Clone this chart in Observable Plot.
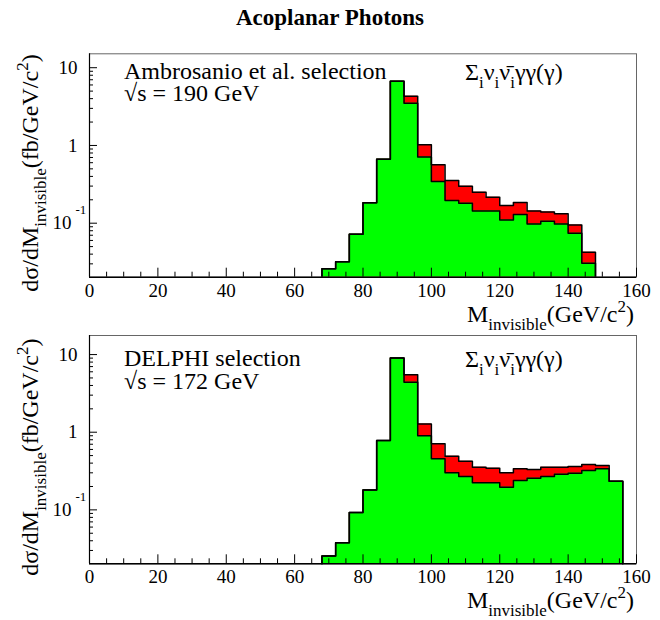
<!DOCTYPE html>
<html><head><meta charset="utf-8">
<script src="https://cdn.jsdelivr.net/npm/d3@7"></script>
<script src="https://cdn.jsdelivr.net/npm/@observablehq/plot@0.6"></script>
<style>
html,body{margin:0;padding:0;background:#fff;}
#wrap{position:relative;width:660px;height:620px;font-family:"Liberation Serif","Times New Roman",serif;}
#title{position:absolute;left:0;top:6px;width:660px;text-align:center;font-weight:bold;font-size:23px;line-height:1;}
#p1{position:absolute;left:0;top:40px;}
#p2{position:absolute;left:0;top:330px;}
#wrap svg, #wrap svg text{font-family:"Liberation Serif","Times New Roman",serif !important;}
</style></head><body>
<div id="wrap"><div id="title">Acoplanar Photons</div><div id="p1"></div><div id="p2"></div></div>
<script>
// ---- data ----
const binWidth = 4;
const binLow1 = [68,72,76,80,84,88,92,96,100,104,108,112,116,120,124,128,132,136,140,144];
const green1  = [0.026,0.032,0.072,0.183,0.667,6.7,3.5,0.708,0.344,0.196,0.181,0.143,0.143,0.110,0.129,0.098,0.106,0.098,0.0745,0.0306];
const total1  = [0.026,0.032,0.072,0.183,0.667,6.7,4.28,1.02,0.565,0.355,0.299,0.251,0.216,0.169,0.185,0.143,0.139,0.132,0.095,0.0424];

const binLow2 = [68,72,76,80,84,88,92,96,100,104,108,112,116,120,124,128,132,136,140,144,148,152];
const green2  = [0.0254,0.0377,0.0927,0.180,0.78,9.06,4.4,0.90,0.454,0.30,0.269,0.223,0.223,0.196,0.239,0.256,0.269,0.288,0.297,0.321,0.338,0.234];
const total2  = [0.0254,0.0377,0.0927,0.180,0.78,9.06,5.48,1.28,0.71,0.49,0.423,0.355,0.344,0.30,0.338,0.331,0.355,0.355,0.362,0.384,0.373,0.234];

const xMajor = [0,20,40,60,80,100,120,140,160];
const xMinor = [5,10,15,25,30,35,45,50,55,65,70,75,85,90,95,105,110,115,125,130,135,145,150,155];
const yMajor = [0.1,1,10];
const yMinor = [0.03,0.04,0.05,0.06,0.07,0.08,0.09,0.2,0.3,0.4,0.5,0.6,0.7,0.8,0.9,2,3,4,5,6,7,8,9];

const GREEN = "#00ff00", RED = "#ff0000";
const FONT = "'Liberation Serif', 'Times New Roman', serif";

function rich(text, parts, size, subDy, supDy) {
  let cur = 0;
  for (const [t, k] of parts) {
    const target = k === "sub" ? subDy : k === "sup" ? supDy : 0;
    text.append("tspan").attr("dy", target - cur)
      .attr("font-size", k === "n" ? size : Math.round(size * 0.7)).text(t);
    cur = target;
  }
}

function panel(el, binLow, green, total, yMax, H, mT, mB, ann) {
  const W = 660, mL = 89, mR = 24;
  const yMin = 0.0202;
  const innerH = H - mT - mB, innerW = W - mL - mR;
  const last = binLow.length - 1;
  const areaPts = vals => binLow.map((lo, i) => ({x: lo, y: vals[i]}))
    .concat([{x: binLow[last] + binWidth, y: vals[last]}]);
  const stepPts = vals => {
    const pts = [{x: binLow[0], y: yMin}];
    binLow.forEach((lo, i) => { pts.push({x: lo, y: vals[i]}); pts.push({x: lo + binWidth, y: vals[i]}); });
    pts.push({x: binLow[last] + binWidth, y: yMin});
    return pts;
  };
  const svg = Plot.plot({
    width: W, height: H,
    marginLeft: mL, marginRight: mR, marginTop: mT, marginBottom: mB,
    style: {fontFamily: FONT, fontSize: "19px", background: "white", color: "black", overflow: "visible"},
    x: {domain: [0, 160], label: null},
    y: {type: "log", domain: [yMin, yMax], label: null},
    marks: [
      Plot.areaY(areaPts(total), {x: "x", y1: yMin, y2: "y", curve: "step-after", fill: RED}),
      Plot.areaY(areaPts(green), {x: "x", y1: yMin, y2: "y", curve: "step-after", fill: GREEN}),
      Plot.line(stepPts(total), {x: "x", y: "y", stroke: "black", strokeWidth: 1.5}),
      Plot.line(stepPts(green), {x: "x", y: "y", stroke: "black", strokeWidth: 1.5}),
      Plot.frame({stroke: "#666", strokeWidth: 1}),
      Plot.ruleY([yMin], {stroke: "black", strokeWidth: 1.5}),
      Plot.ruleX([0], {stroke: "black", strokeWidth: 1.2}),
      Plot.tickX(xMajor, {x: d => d, insetTop: innerH - 9, stroke: "black"}),
      Plot.tickX(xMinor, {x: d => d, insetTop: innerH - 5, stroke: "black"}),
      Plot.tickY(yMajor, {y: d => d, insetRight: innerW - 8, stroke: "black"}),
      Plot.tickY(yMinor, {y: d => d, insetRight: innerW - 4, stroke: "black"}),
      Plot.axisX({ticks: xMajor, tickSize: 0, tickPadding: 6, fontSize: 19, label: null}),
      Plot.axisY({ticks: [1, 10], tickFormat: d => String(d), tickSize: 0, tickPadding: 12, fontSize: 19, label: null}),
      Plot.text([0.1], {y: d => d, frameAnchor: "left", text: () => "10", textAnchor: "end", dx: -18, fontSize: 19}),
      Plot.text([0.1], {y: d => d, frameAnchor: "left", text: () => "-1", textAnchor: "start", dx: -14, dy: -13, fontSize: 13})
    ]
  });
  const s = d3.select(svg).style("font-family", FONT);
  const g = s.append("g").attr("fill", "black").attr("text-anchor", "start");
  g.append("text").attr("x", 124).attr("y", ann.l1y).attr("font-size", 24).attr("text-anchor", "start").text(ann.l1);
  g.append("text").attr("x", 124).attr("y", ann.l2y).attr("font-size", 24).attr("text-anchor", "start").text(ann.l2);
  const sig = g.append("text").attr("x", 465).attr("y", ann.l1y + 1).attr("text-anchor", "start");
  rich(sig, [["Σ","n"],["i","sub"],["ν","n"],["i","sub"],["ν\u0304","n"],["i","sub"],["γγ(γ)","n"]], 24, 8, -10);
  const xl = g.append("text").attr("x", 634).attr("y", ann.xly).attr("text-anchor", "end");
  rich(xl, [["M","n"],["invisible","sub"],["(GeV/c","n"],["2","sup"],[")","n"]], 24, 8, -10);
  const yl = g.append("text").attr("text-anchor", "middle")
    .attr("transform", `translate(38,${mT + innerH / 2 + 8}) rotate(-90)`);
  rich(yl, [["dσ/dM","n"],["invisible","sub"],["(fb/GeV/c","n"],["2","sup"],[")","n"]], 24, 8, -10);
  document.getElementById(el).appendChild(svg);
}

panel("p1", binLow1, green1, total1, 15.1, 290, 13.3, 53.3,
  {l1: "Ambrosanio et al. selection", l2: "√s = 190 GeV", l1y: 39.3, l2y: 61, xly: 281.5});
panel("p2", binLow2, green2, total2, 17.6, 290, 5, 56.7,
  {l1: "DELPHI selection", l2: "√s = 172 GeV", l1y: 36, l2y: 58.5, xly: 278});
</script>
</body></html>
